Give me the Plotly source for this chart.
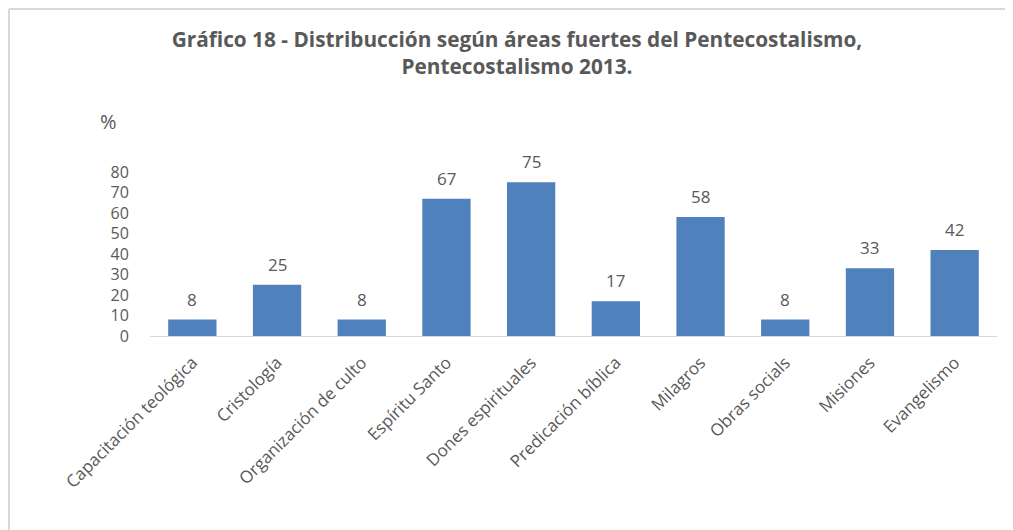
import plotly.graph_objects as go

categories = ["Capacitación teológica", "Cristología", "Organización de culto", "Espíritu Santo",
              "Dones espirituales", "Predicación bíblica", "Milagros", "Obras socials",
              "Misiones", "Evangelismo"]
values = [8, 25, 8, 67, 75, 17, 58, 8, 33, 42]
y_ticks = [0, 10, 20, 30, 40, 50, 60, 70, 80]

FONT = "Open Sans"
GRAY = "#595959"

# page offset of the figure (body margin)
OFF = 8
L, R, T, B = 150, 997, 172, 336  # desired plot area in page pixels
PW, PH = R - L, B - T


def px(xp):
    return (xp - L) / PW


def py(yp):
    return (B - yp) / PH


fig = go.Figure(go.Bar(
    x=categories, y=values,
    marker=dict(color="#4F81BD", line=dict(width=0)),
    width=0.57,
    cliponaxis=False,
    hoverinfo="x+y",
))

annotations = [dict(
    x=c, y=v, xref="x", yref="y", text=str(v), showarrow=False,
    xanchor="center", yanchor="bottom", yshift=7,
    font=dict(family=FONT, size=17, color=GRAY),
) for c, v in zip(categories, values)]

annotations.append(dict(
    text="%", xref="paper", yref="paper",
    x=px(108), y=py(121),
    xanchor="center", yanchor="middle", showarrow=False,
    font=dict(family=FONT, size=20, color=GRAY),
))

fig.update_layout(
    width=1013, height=530,
    margin=dict(l=L - OFF, r=1013 + OFF - R, t=T - OFF, b=530 + OFF - B, autoexpand=False),
    paper_bgcolor="white", plot_bgcolor="white",
    showlegend=False,
    title=dict(
        text="<b>Gráfico 18 - Distribucción según áreas fuertes del Pentecostalismo,<br>Pentecostalismo 2013.</b>",
        x=(517 - OFF) / 1013, xanchor="center", y=1 - (47 - OFF) / 530, yanchor="middle",
        font=dict(family=FONT, size=20.8, color=GRAY),
    ),
    xaxis=dict(
        tickangle=-45, showgrid=False,
        ticks="outside", ticklen=9, tickcolor="rgba(0,0,0,0)",
        showline=True, linecolor="#D9D9D9", linewidth=1,
        tickfont=dict(family=FONT, size=17, color=GRAY),
        automargin=False,
    ),
    yaxis=dict(
        range=[0, 80], tickvals=y_ticks, showgrid=False, zeroline=False,
        showline=False,
        ticks="outside", ticklen=17, tickcolor="rgba(0,0,0,0)",
        tickfont=dict(family=FONT, size=16, color=GRAY),
        automargin=False,
    ),
    annotations=annotations,
    shapes=[
        dict(type="line", xref="paper", yref="paper",
             x0=px(9), x1=1.1, y0=py(9), y1=py(9),
             line=dict(color="#D9D9D9", width=2)),
        dict(type="line", xref="paper", yref="paper",
             x0=px(9), x1=px(9), y0=py(9), y1=-1.5,
             line=dict(color="#D9D9D9", width=2)),
    ],
)

fig.write_html("out.html")
